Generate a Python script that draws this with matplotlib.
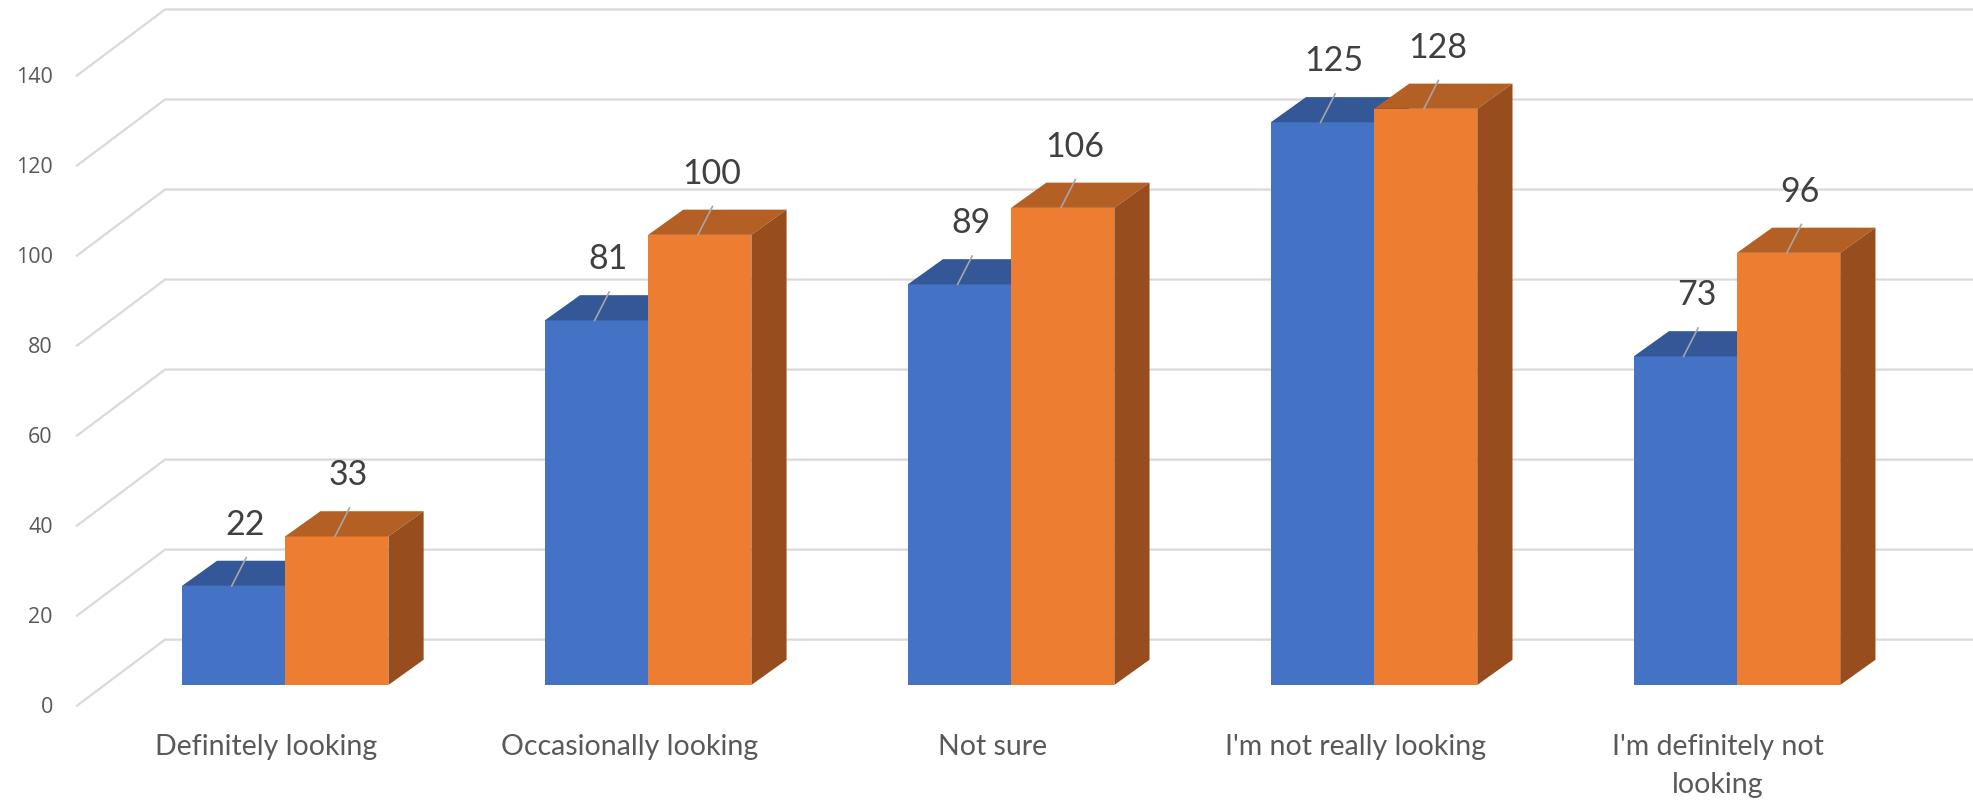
import matplotlib
matplotlib.use('agg')
import matplotlib.pyplot as plt
import numpy as np

categories = ["Definitely looking", "Occasionally looking", "Not sure",
              "I'm not really looking", "I'm definitely not\nlooking"]
series_a = [22, 81, 89, 125, 73]
series_b = [33, 100, 106, 128, 96]
ticks = [0, 20, 40, 60, 80, 100, 120, 140]

# colours (front, top, side)
blue = ('#4472C4', '#335797', '#2B4C86')
orange = ('#ED7D31', '#B45F23', '#974D1D')

# oblique "3d" geometry, in data units
w = 0.2845            # bar width
bdx, bdy = 0.097, 5.6  # bar depth
wall_y = 10.07        # back wall offset of gridlines
front_y = -4.75       # front-left end of gridlines
front_x, back_x = -0.576, -0.331

fig = plt.figure(figsize=(19.74, 8.03), dpi=100)
ax = fig.add_axes([0, 0, 1, 1])
ax.set_xlim(-0.7856, 4.653)
ax.set_ylim(-26.0, 152.4)
ax.axis('off')

# gridlines: diagonal floor bit + back wall line
for t in ticks:
    ax.plot([front_x, back_x, 4.7], [t + front_y, t + wall_y, t + wall_y],
            color='#D9D9D9', lw=1.6, zorder=1, solid_capstyle='butt')
    ax.text(-0.64, t + front_y, str(t), ha='right', va='center',
            fontsize=15.5, color='#595959', family='Open Sans')

x = np.arange(len(categories))


def draw_bars(xl, vals, cols, z):
    ax.bar(xl, vals, width=w, align='edge', color=cols[0], zorder=z, lw=0)
    for x0, v in zip(xl, vals):
        x1 = x0 + w
        ax.fill([x0, x1, x1 + bdx, x0 + bdx], [v, v, v + bdy, v + bdy],
                color=cols[1], zorder=z, lw=0)
        ax.fill([x1, x1 + bdx, x1 + bdx, x1], [0, bdy, v + bdy, v],
                color=cols[2], zorder=z, lw=0)
        c = x0 + w / 2
        ax.plot([c - 0.005, c + 0.035], [v, v + 6.3], color='#A6A6A6',
                lw=1.2, zorder=z + 0.5)
        ax.text(c + 0.032, v + 13.8, str(v), ha='center', va='center',
                fontsize=24.5, color='#404040', family='Lato', zorder=5)


draw_bars(x - w, series_a, blue, 2)
draw_bars(x, series_b, orange, 3)

for xi, lab in zip(x, categories):
    ax.text(xi - 0.052, -10.6, lab, ha='center', va='top', fontsize=20.5,
            color='#595959', family='Lato', linespacing=1.6)

fig.savefig('out.png', dpi=100)
